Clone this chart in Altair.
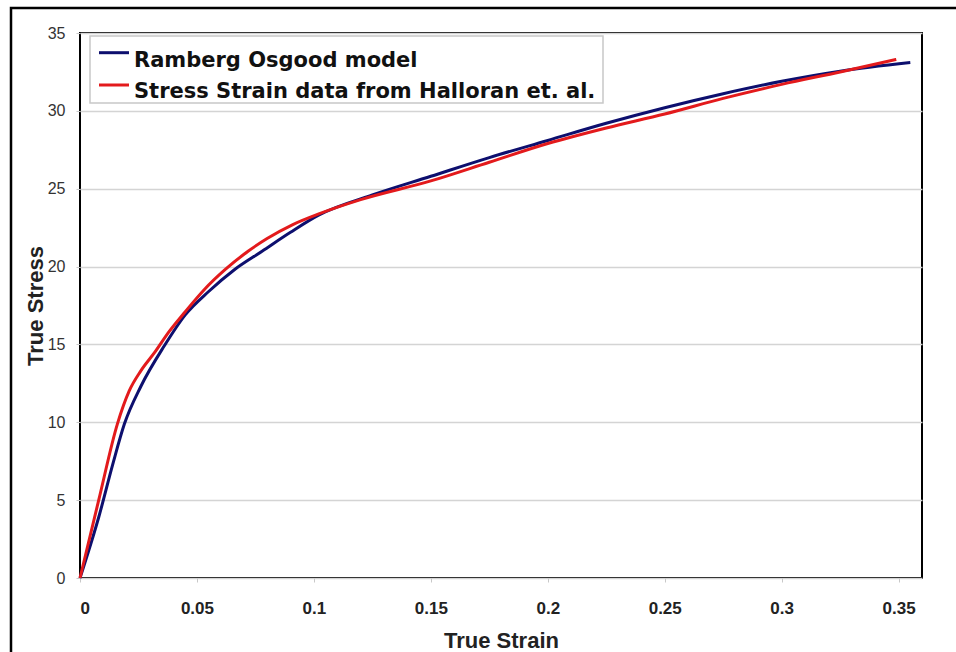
import altair as alt
import pandas as pd

# Ramberg Osgood model curve
model_strain = [0, 0.008, 0.014, 0.019, 0.026, 0.036, 0.045, 0.055, 0.066, 0.078, 0.090,
                0.102, 0.125, 0.15, 0.175, 0.2, 0.225, 0.25, 0.275, 0.30, 0.325, 0.355]
model_stress = [0, 3.9, 7.3, 9.9, 12.3, 14.9, 16.9, 18.4, 19.8, 21.0, 22.2,
                23.3, 24.6, 25.8, 27.0, 28.1, 29.2, 30.2, 31.1, 31.9, 32.55, 33.1]

# Stress strain data from Halloran et. al.
data_strain = [0, 0.008, 0.016, 0.021, 0.026, 0.032, 0.038, 0.045, 0.053, 0.062, 0.072,
               0.080, 0.091, 0.1024, 0.12, 0.15, 0.175, 0.2, 0.225, 0.25, 0.275, 0.30,
               0.325, 0.349]
data_stress = [0, 5.0, 9.9, 12.0, 13.3, 14.5, 15.8, 17.1, 18.5, 19.8, 21.0,
               21.8, 22.7, 23.4, 24.3, 25.5, 26.7, 27.9, 28.9, 29.8, 30.8, 31.7,
               32.5, 33.3]

series_names = ["Ramberg Osgood model", "Stress Strain data from Halloran et. al."]
series_colors = ["#0d0f6e", "#e31a1c"]

x_ticks = [0, 0.05, 0.1, 0.15, 0.2, 0.25, 0.3, 0.35]
y_ticks = [0, 5, 10, 15, 20, 25, 30, 35]

rows = []
for i, (sx, sy) in enumerate(zip(model_strain, model_stress)):
    rows.append({"strain": sx, "stress": sy, "series": series_names[0], "order": i})
for i, (sx, sy) in enumerate(zip(data_strain, data_stress)):
    rows.append({"strain": sx, "stress": sy, "series": series_names[1], "order": i})
df = pd.DataFrame(rows)

color_scale = alt.Scale(domain=series_names, range=series_colors)

lines = alt.Chart(df).mark_line(strokeWidth=3, interpolate="monotone").encode(
    x=alt.X("strain:Q",
            scale=alt.Scale(domain=[0, 0.36], nice=False, zero=False),
            axis=alt.Axis(values=x_ticks, format="~g", title="True Strain",
                          grid=False, domain=False, tickSize=4, tickColor="#c8c8c8",
                          labelFont="Liberation Sans", labelFontSize=17, labelFontWeight="bold",
                          labelColor="#222222", labelPadding=18,
                          titleFont="Liberation Sans", titleFontSize=22, titleFontWeight="bold",
                          titleColor="#222222", titleY=69, titleBaseline="alphabetic")),
    y=alt.Y("stress:Q",
            scale=alt.Scale(domain=[0, 35], nice=False),
            axis=alt.Axis(values=y_ticks, title="True Stress",
                          grid=True, gridColor="#d4d4d4", gridWidth=1.5,
                          domain=False, tickSize=4, tickColor="#c8c8c8",
                          labelFont="Liberation Sans", labelFontSize=16,
                          labelColor="#333333", labelPadding=11,
                          titleFont="Liberation Sans", titleFontSize=22, titleFontWeight="bold",
                          titleColor="#222222", titleAngle=270, titleX=-38,
                          titleBaseline="alphabetic")),
    color=alt.Color("series:N", scale=color_scale, legend=None),
    order="order:Q",
)

# Legend (drawn in the plot's top-left corner)
legend_df = pd.DataFrame({"series": series_names})
legend_box = alt.Chart(pd.DataFrame({"a": [0]})).mark_rect(
    fill="white", stroke="#c8c8c8", strokeWidth=1.5
).encode(x=alt.value(10), x2=alt.value(523), y=alt.value(3), y2=alt.value(70))

legend_layers = [legend_box]
for i, name in enumerate(series_names):
    entry = alt.Chart(legend_df).transform_filter(alt.datum.series == name)
    legend_layers.append(
        entry.mark_rule(strokeWidth=3).encode(
            x=alt.value(19), x2=alt.value(49), y=alt.value(19.7 + 32.3 * i),
            color=alt.Color("series:N", scale=color_scale, legend=None))
    )
    legend_layers.append(
        entry.mark_text(align="left", baseline="alphabetic", font="DejaVu Sans",
                        fontSize=21, fontWeight="bold", color="#111111").encode(
            x=alt.value(54), y=alt.value(33.7 + 31.6 * i), text="series:N")
    )

border = alt.Chart(pd.DataFrame({"a": [0]})).mark_rect(
    fill=None, stroke="black", strokeWidth=2.5
).encode(
    x=alt.value(-69), x2=alt.value(960), y=alt.value(-25), y2=alt.value(700)
)

chart = alt.layer(lines, *legend_layers, border).properties(
    width=842, height=545,
    padding={"left": 80, "top": 33, "right": 34, "bottom": 74},
    autosize=alt.AutoSizeParams(type="none"),
    background="white",
).configure_view(stroke="black", strokeWidth=2)

chart.save("out.html", embed_options={"renderer": "svg", "actions": False})
